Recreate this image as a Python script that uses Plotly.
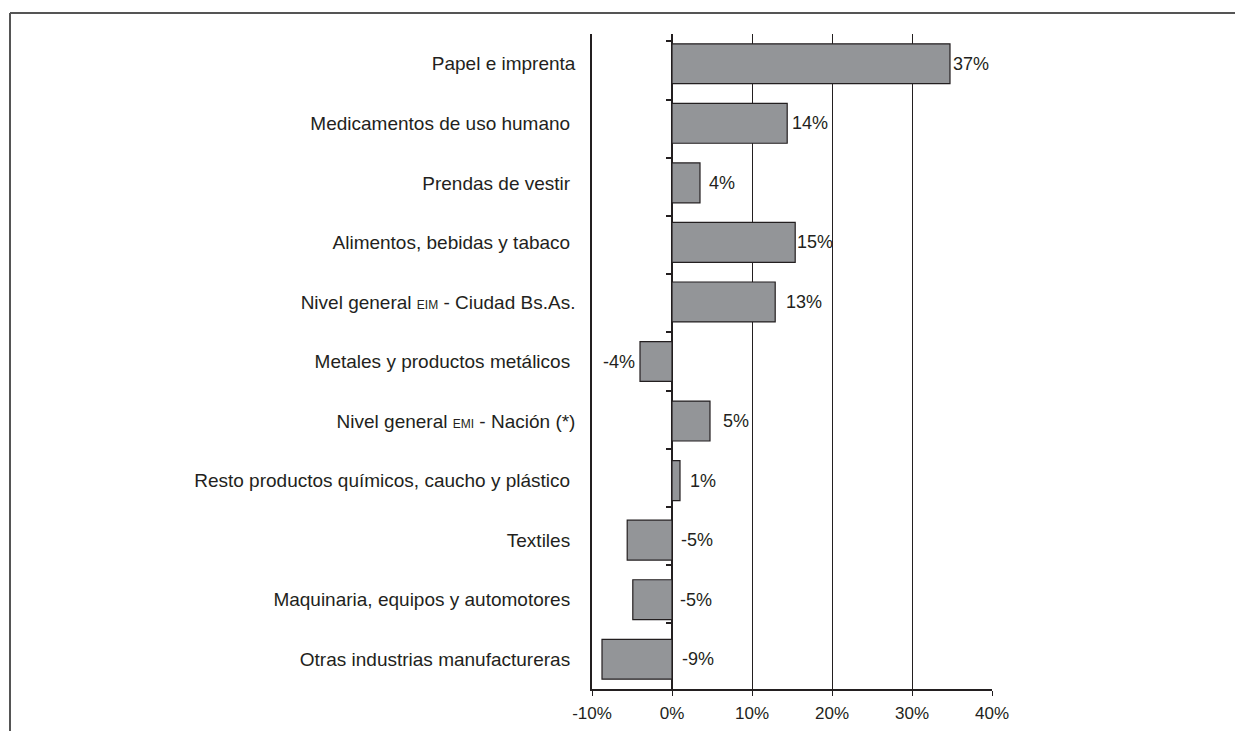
import plotly.graph_objects as go

NB = "\u00a0"
categories = [
    "Papel e imprenta",
    "Medicamentos de uso humano" + NB,
    "Prendas de vestir" + NB,
    "Alimentos, bebidas y tabaco" + NB,
    "Nivel general <span style='font-size:12px'>EIM</span> - Ciudad Bs.As.",
    "Metales y productos metálicos" + NB,
    "Nivel general <span style='font-size:12px'>EMI</span> - Nación (*)",
    "Resto productos químicos, caucho y plástico" + NB,
    "Textiles" + NB,
    "Maquinaria, equipos y automotores" + NB,
    "Otras industrias manufactureras" + NB,
]
values = [34.75, 14.4, 3.5, 15.4, 12.9, -4.0, 4.75, 1.0, -5.6, -4.9, -8.75]
value_labels = ["37%", "14%", "4%", "15%", "13%", "-4%", "5%", "1%", "-5%", "-5%", "-9%"]
# where each label sits: 'end' = just past bar end, 'left' = left of negative bar, 'zero' = right of 0 line
label_mode = ["end", "end", "end", "end", "end", "left", "end", "end", "zero", "zero", "zero"]
label_shift = [1, 3, 7, 0, 9, 3, 11, 8, 7, 6, 8]

x_ticks = [-10, 0, 10, 20, 30, 40]
x_ticktext = ["-10%", "0%", "10%", "20%", "30%", "40%"]

FONT = "Liberation Sans, Arial, sans-serif"
INK = "#231f20"

fig = go.Figure()
fig.add_trace(go.Bar(
    x=values, y=categories, orientation="h",
    marker=dict(color="#939598", line=dict(color=INK, width=1.2)),
    width=0.67, hoverinfo="x+y",
))
# invisible helper trace on secondary y axis to draw category boundary ticks at x=0
fig.add_trace(go.Scatter(
    x=values, y=categories, yaxis="y2", mode="markers",
    marker=dict(opacity=0), hoverinfo="skip", showlegend=False,
))

annotations = []
for c, v, t, m, s in zip(categories, values, value_labels, label_mode, label_shift):
    if m == "end":
        annotations.append(dict(x=v, y=c, text=t, xanchor="left", xshift=s, showarrow=False))
    elif m == "left":
        annotations.append(dict(x=v, y=c, text=t, xanchor="right", xshift=-s, showarrow=False))
    else:
        annotations.append(dict(x=0, y=c, text=t, xanchor="left", xshift=s, showarrow=False))
for a in annotations:
    a["font"] = dict(size=18, family=FONT, color=INK)

fig.update_layout(
    width=1235, height=723,
    margin=dict(l=584, r=251, t=26, b=42),
    paper_bgcolor="white", plot_bgcolor="white",
    font=dict(family=FONT, size=19, color=INK),
    showlegend=False,
    bargap=0.33,
    annotations=annotations,
    xaxis=dict(
        range=[-10, 40], tickvals=x_ticks, ticktext=x_ticktext,
        showgrid=True, gridcolor=INK, gridwidth=1,
        zeroline=True, zerolinecolor=INK, zerolinewidth=1.5,
        showline=True, linecolor=INK, linewidth=1.5,
        ticks="outside", ticklen=5, tickcolor=INK,
        tickfont=dict(size=17), ticklabelstandoff=3, fixedrange=True,
        automargin=False,
    ),
    yaxis=dict(
        type="category", categoryorder="array", categoryarray=categories,
        autorange="reversed", showgrid=False,
        showline=True, linecolor=INK, linewidth=1.5,
        ticks="", ticklabelstandoff=11, fixedrange=True,
        automargin=False,
    ),
    yaxis2=dict(
        type="category", categoryorder="array", categoryarray=categories,
        autorange="reversed", overlaying="y", anchor="free", position=0.2,
        side="left", showgrid=False, showline=False, showticklabels=False,
        ticks="outside", tickson="boundaries", ticklen=6, tickcolor=INK,
        tickwidth=1.5, fixedrange=True, automargin=False,
    ),
    shapes=[
        dict(type="line", xref="paper", yref="paper", x0=-1.455, x1=1.7, y0=1.032, y1=1.032,
             line=dict(color="#555555", width=2)),
        dict(type="line", xref="paper", yref="paper", x0=-1.455, x1=-1.455, y0=1.032, y1=-0.1,
             line=dict(color="#555555", width=2)),
    ],
)

fig.write_html("out.html")
